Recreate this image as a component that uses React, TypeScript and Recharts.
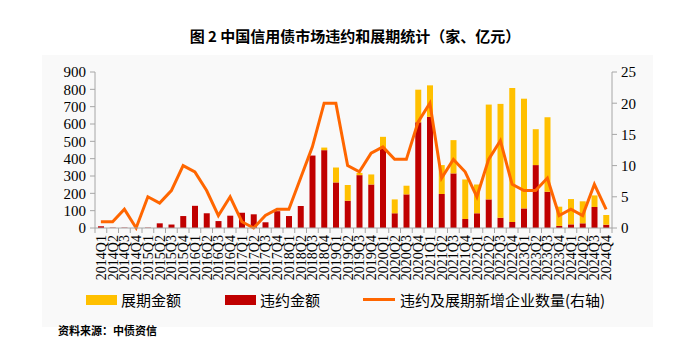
import React from 'react';
import { ComposedChart, Bar, Line, XAxis, YAxis } from 'recharts';

const quarters = [
  '2014Q1', '2014Q2', '2014Q3', '2014Q4', '2015Q1', '2015Q2', '2015Q3', '2015Q4',
  '2016Q1', '2016Q2', '2016Q3', '2016Q4', '2017Q1', '2017Q2', '2017Q3', '2017Q4',
  '2018Q1', '2018Q2', '2018Q3', '2018Q4', '2019Q1', '2019Q2', '2019Q3', '2019Q4',
  '2020Q1', '2020Q2', '2020Q3', '2020Q4', '2021Q1', '2021Q2', '2021Q3', '2021Q4',
  '2022Q1', '2022Q2', '2022Q3', '2022Q4', '2023Q1', '2023Q2', '2023Q3', '2023Q4',
  '2024Q1', '2024Q2', '2024Q3', '2024Q4',
];

// 违约金额（亿元）
const defaultAmount = [
  10, 2, 2, 0, 2, 27, 20, 69, 128, 85, 40, 71, 88, 79, 33, 97,
  69, 127, 418, 449, 263, 157, 305, 251, 459, 85, 194, 610, 641, 196, 315, 52,
  85, 165, 59, 35, 113, 363, 209, 12, 21, 27, 121, 19,
];

// 展期金额（亿元）
const extensionAmount = [
  0, 0, 0, 0, 0, 0, 0, 0, 0, 0, 0, 0, 0, 0, 0, 0,
  0, 0, 0, 15, 86, 91, 13, 58, 67, 80, 50, 188, 182, 167, 192, 228,
  166, 547, 657, 773, 633, 207, 430, 111, 146, 127, 67, 56,
];

// 违约及展期新增企业数量（家，右轴）
const newIssuers = [
  1, 1, 3, 0, 5, 4, 6, 10, 9, 6, 2, 5, 1, 0, 2, 3,
  3, 8, 13, 20, 20, 10, 9, 12, 13, 11, 11, 17, 20, 8, 11, 9,
  5, 11, 14, 7, 6, 6, 8, 2, 3, 2, 7, 3,
];

const leftTicks = [0, 100, 200, 300, 400, 500, 600, 700, 800, 900];
const rightTicks = [0, 5, 10, 15, 20, 25];

const data = quarters.map((q, i) => ({
  q,
  default: defaultAmount[i],
  extension: extensionAmount[i],
  count: newIssuers[i],
}));

const YELLOW = '#FFC000';
const RED = '#C00000';
const ORANGE = '#FF6600';
const AXIS = '#a6a6a6';
const SERIF = '"Liberation Serif", "Times New Roman", serif';
const CJK = '"Noto Sans CJK SC", sans-serif';

const PLOT_LEFT = 95;
const PLOT_RIGHT = 612;
const BAND = (PLOT_RIGHT - PLOT_LEFT) / quarters.length;

function QuarterTick(props: any) {
  const { x, y, payload, index } = props;
  const last = index === quarters.length - 1;
  return (
    <g>
      <line x1={x - BAND / 2} x2={x - BAND / 2} y1={y - 5} y2={y} stroke={AXIS} />
      {last && <line x1={x + BAND / 2} x2={x + BAND / 2} y1={y - 5} y2={y} stroke={AXIS} />}
      <g transform={`translate(${x},${y + 2}) rotate(-90)`}>
        <text x={0} y={0} dy="0.35em" textAnchor="end" fontFamily={SERIF} fontSize={14} fill="#000">
          {payload.value}
        </text>
      </g>
    </g>
  );
}

export default function App() {
  const tickStyle = { fontFamily: SERIF, fontSize: 15, fill: '#000' };
  return (
    <div style={{ position: 'absolute', left: 0, top: 0, width: 700, height: 353, background: '#fff', overflow: 'hidden' }}>
      <div style={{ position: 'absolute', left: 42, top: 55, width: 611, height: 272, background: '#f9f9f9' }} />
      <div style={{ position: 'absolute', left: 5, top: 25, width: 700, textAlign: 'center', fontFamily: CJK, fontWeight: 700, fontSize: 15, color: '#000' }}>
        图 2 中国信用债市场违约和展期统计（家、亿元）
      </div>
      <div style={{ position: 'absolute', left: 0, top: 0 }}>
        <ComposedChart width={700} height={353} data={data} margin={{ top: 72, right: 48, bottom: 65, left: 55 }}>
          <XAxis
            dataKey="q"
            interval={0}
            height={60}
            tickSize={5}
            tickMargin={0}
            tickLine={false}
            axisLine={{ stroke: AXIS }}
            tick={<QuarterTick />}
          />
          <YAxis
            yAxisId="left"
            width={40}
            domain={[0, 900]}
            ticks={leftTicks}
            interval={0}
            tickSize={5}
            tickMargin={4}
            axisLine={{ stroke: AXIS }}
            tickLine={{ stroke: AXIS }}
            tick={tickStyle}
          />
          <YAxis
            yAxisId="right"
            orientation="right"
            width={40}
            domain={[0, 25]}
            ticks={rightTicks}
            interval={0}
            tickSize={5}
            tickMargin={4}
            axisLine={{ stroke: AXIS }}
            tickLine={{ stroke: AXIS }}
            tick={tickStyle}
          />
          <Bar yAxisId="left" dataKey="default" stackId="a" fill={RED} barSize={6} isAnimationActive={false} />
          <Bar yAxisId="left" dataKey="extension" stackId="a" fill={YELLOW} barSize={6} isAnimationActive={false} />
          <Line
            yAxisId="right"
            type="linear"
            dataKey="count"
            stroke={ORANGE}
            strokeWidth={3}
            dot={false}
            activeDot={false}
            isAnimationActive={false}
          />
        </ComposedChart>
      </div>
      {/* legend */}
      <div style={{ position: 'absolute', left: 86, top: 295, width: 31, height: 10, background: YELLOW }} />
      <div style={{ position: 'absolute', left: 121, top: 290, fontFamily: CJK, fontSize: 15, lineHeight: '20px', color: '#000' }}>展期金额</div>
      <div style={{ position: 'absolute', left: 225, top: 295, width: 31, height: 10, background: RED }} />
      <div style={{ position: 'absolute', left: 260, top: 290, fontFamily: CJK, fontSize: 15, lineHeight: '20px', color: '#000' }}>违约金额</div>
      <div style={{ position: 'absolute', left: 363, top: 298, width: 32, height: 3, background: ORANGE }} />
      <div style={{ position: 'absolute', left: 400, top: 290, fontFamily: CJK, fontSize: 15, lineHeight: '20px', color: '#000' }}>违约及展期新增企业数量(右轴)</div>
      <div style={{ position: 'absolute', left: 58, top: 322, fontFamily: CJK, fontWeight: 700, fontSize: 11, color: '#000' }}>
        资料来源：中债资信
      </div>
    </div>
  );
}
